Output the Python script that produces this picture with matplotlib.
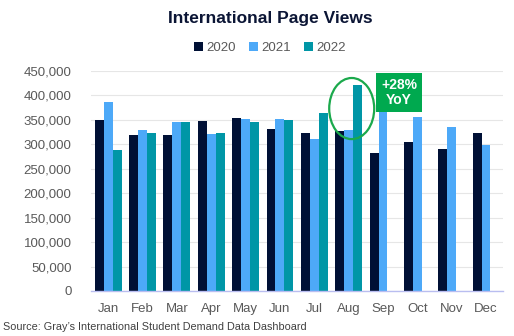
import matplotlib
matplotlib.use("Agg")
import matplotlib.pyplot as plt
from matplotlib.patches import Ellipse
from matplotlib.ticker import FuncFormatter
import numpy as np

plt.rcParams['font.family'] = ['Liberation Sans', 'DejaVu Sans']

months = ["Jan", "Feb", "Mar", "Apr", "May", "Jun", "Jul", "Aug", "Sep", "Oct", "Nov", "Dec"]
views_2020 = [350000, 319000, 319000, 348000, 354000, 331000, 323000, 327000, 282000, 305000, 290000, 323000]
views_2021 = [387000, 329000, 346000, 321000, 352000, 352000, 311000, 330000, 385000, 356000, 335000, 299000]
views_2022 = [289000, 323000, 346000, 323000, 346000, 350000, 364000, 422000]
series = [("2020", views_2020, "#001035"), ("2021", views_2021, "#4DA9F8"), ("2022", views_2022, "#0096A6")]
yticks = list(range(0, 450001, 50000))

fig = plt.figure(figsize=(5.14, 3.36), dpi=100)
ax = fig.add_axes([0.177, 0.134, 0.802, 0.655])

w = 0.26
for i, (name, vals, col) in enumerate(series):
    x = np.arange(len(vals)) + (i - 1) * w
    ax.bar(x, vals, width=w, color=col, label=name, zorder=2)

ax.set_xlim(-0.5, 11.5)
ax.set_ylim(0, 450000)
ax.set_yticks(yticks)
ax.yaxis.set_major_formatter(FuncFormatter(lambda v, p: f"{int(v):,}"))
ax.set_xticks(range(len(months)))
ax.set_xticklabels(months)
ax.tick_params(axis='both', length=0, labelsize=9.5, labelcolor="#595959")
ax.tick_params(axis='x', pad=9)
ax.tick_params(axis='y', pad=14)
ax.grid(axis='y', color="#E6E6E6", linewidth=0.8, zorder=0)
for s in ["top", "right", "left"]:
    ax.spines[s].set_visible(False)
ax.spines["bottom"].set_color("#B9BDF0")
ax.spines["bottom"].set_linewidth(1.0)

# Highlight August 2022 and its year-over-year growth
aug = months.index("Aug")
ax.add_patch(Ellipse((aug + 0.09, 373000), 1.31, 125000, fill=False,
                     edgecolor="#1BA94C", linewidth=1.6, zorder=4))
yoy = (views_2022[aug] / views_2021[aug] - 1) * 100
ax.text(aug + 1.47, 406000, f"+{yoy:.0f}%\nYoY", ha="center", va="center",
        color="white", fontsize=10, fontweight="bold", linespacing=1.05, zorder=5,
        bbox=dict(boxstyle="square,pad=0.38", facecolor="#00A94F", edgecolor="none"))

fig.text(0.525, 0.945, "International Page Views", ha="center", va="center",
         fontsize=12.5, fontweight="bold", color="#0B1535")
leg = fig.legend(loc="center", bbox_to_anchor=(0.525, 0.857), ncol=3, frameon=False,
                 fontsize=9.5, handlelength=0.7, handleheight=0.7, handletextpad=0.25,
                 columnspacing=1.0)
for t in leg.get_texts():
    t.set_color("#595959")
fig.text(0.006, 0.027, "Source: Gray\u2019s International Student Demand Data Dashboard",
         ha="left", va="center", fontsize=7.8, color="#404040")

fig.savefig("out.png", dpi=100)
